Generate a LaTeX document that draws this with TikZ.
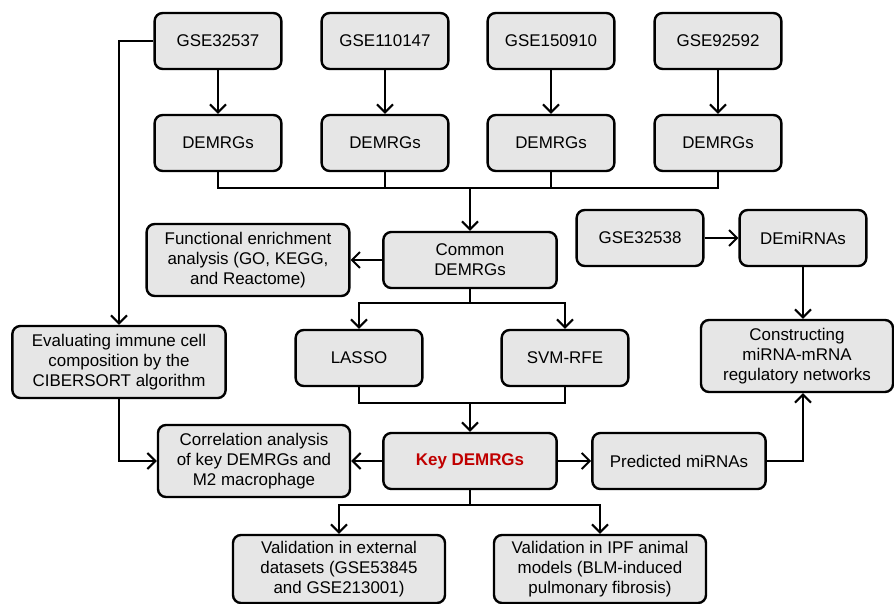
\documentclass[tikz,border=0pt]{standalone}
\usepackage{fontspec}
\setmainfont{Liberation Sans}
\usetikzlibrary{arrows.meta}
\definecolor{boxgray}{HTML}{E6E6E6}
\definecolor{keyred}{HTML}{C00000}

\begin{document}
\begin{tikzpicture}[x=0.75pt,y=-0.75pt,line width=1.5pt,
    arr/.style={-{Straight Barb[length=6pt,width=12pt,line width=1.5pt]}},
    box/.style={draw, fill=boxgray, rounded corners=6pt, line width=1.8pt, align=center, inner sep=0pt,
        font=\fontsize{12.7}{15.2}\selectfont, minimum width=95pt, minimum height=42pt},
    widebox/.style={box, minimum width=130pt},
    tallbox/.style={box, minimum height=54pt}]

    \useasboundingbox (0,0) rectangle (894,604);

    % datasets and their DEMRGs
    \node[box] (g1) at (218,41) {GSE32537};
    \node[box] (g2) at (385,41) {GSE110147};
    \node[box] (g3) at (551,41) {GSE150910};
    \node[box] (g4) at (718,41) {GSE92592};
    \foreach \i in {1,...,4}{
        \node[box] (d\i) at (g\i |- 0,143) {DEMRGs};
        \draw[arr] (g\i) -- (d\i);
    }

    \node[widebox] (common) at (470,260) {Common\\DEMRGs};
    \node[tallbox, minimum width=152pt] (func) at (248,260) {Functional enrichment\\analysis (GO, KEGG,\\and Reactome)};
    \node[box] (lasso) at (359,358) {LASSO};
    \node[box] (svm) at (565,358) {SVM-RFE};
    \node[widebox, font=\fontsize{12.7}{15.2}\selectfont\bfseries, text=keyred] (key) at (470,461) {Key DEMRGs};
    \node[tallbox, minimum width=144pt] (corr) at (254,461) {Correlation analysis\\of key DEMRGs and\\M2 macrophage};
    \node[widebox] (pred) at (679,461) {Predicted miRNAs};
    \node[box] (gmi) at (640,238) {GSE32538};
    \node[box] (demi) at (803,238) {DEmiRNAs};
    \node[tallbox, minimum width=144pt] (cons) at (797,356) {Constructing\\miRNA-mRNA\\regulatory networks};
    \node[tallbox, minimum width=160pt] (eval) at (119,362) {Evaluating immune cell\\composition by the\\CIBERSORT algorithm};
    \node[tallbox, minimum width=159pt, minimum height=51pt] (val1) at (339,569) {Validation in external\\datasets (GSE53845\\and GSE213001)};
    \node[tallbox, minimum width=159pt, minimum height=51pt] (val2) at (600,569) {Validation in IPF animal\\models (BLM-induced\\pulmonary fibrosis)};

    % bus into common DEMRGs
    \coordinate (bus) at (470,188);
    \draw (d1.south) |- (bus) -| (d4.south);
    \draw (d2.south) |- (bus);
    \draw (d3.south) |- (bus);
    \draw[arr] (bus) -- (common);
    \draw[arr] (common) -- (func);

    % feature selection
    \coordinate (split) at (470,303);
    \coordinate (merge) at (470,403);
    \draw (common.south) -- (split);
    \draw[arr] (split) -| (lasso.north);
    \draw[arr] (split) -| (svm.north);
    \draw (lasso.south) |- (merge);
    \draw (svm.south) |- (merge);
    \draw[arr] (merge) -- (key);

    \draw[arr] (key) -- (corr);
    \draw[arr] (key) -- (pred);
    \draw[arr] (g1.west) -| (eval.north);
    \draw[arr] (eval.south) |- (corr.west);

    % miRNA branch
    \draw[arr] (gmi) -- (demi);
    \draw[arr] (demi.south) -- (demi.south |- cons.north);
    \draw[arr] (pred.east) -| (demi.south |- cons.south);

    % validation
    \coordinate (vsplit) at (470,505);
    \draw (key.south) -- (vsplit);
    \draw[arr] (vsplit) -| (val1.north);
    \draw[arr] (vsplit) -| (val2.north);

\end{tikzpicture}
\end{document}
